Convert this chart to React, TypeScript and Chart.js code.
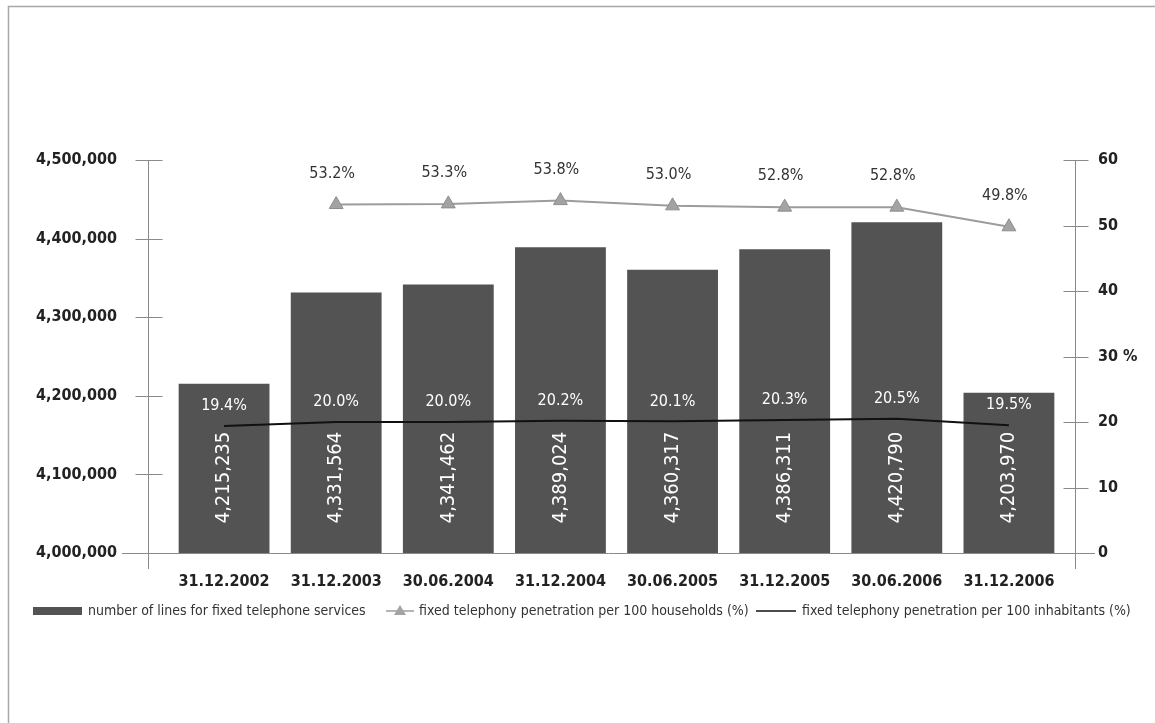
import { useEffect, useRef } from "react";
import { Chart, registerables } from "chart.js";

Chart.register(...registerables);

// Reporting dates
const dates = [
  "31.12.2002",
  "31.12.2003",
  "30.06.2004",
  "31.12.2004",
  "30.06.2005",
  "31.12.2005",
  "30.06.2006",
  "31.12.2006",
];

// Number of lines for fixed telephone services
const fixedLines = [4215235, 4331564, 4341462, 4389024, 4360317, 4386311, 4420790, 4203970];

// Fixed telephony penetration per 100 households (%)
const householdPenetration: (number | null)[] = [null, 53.2, 53.3, 53.8, 53.0, 52.8, 52.8, 49.8];

// Fixed telephony penetration per 100 inhabitants (%)
const inhabitantPenetration = [19.4, 20.0, 20.0, 20.2, 20.1, 20.3, 20.5, 19.5];

// Axis ranges
const linesAxisMin = 4000000;
const linesAxisMax = 4500000;
const linesAxisStep = 100000;
const percentAxisMin = 0;
const percentAxisMax = 60;
const percentAxisStep = 10;

const legendLabels = [
  "number of lines for fixed telephone services",
  "fixed telephony penetration per 100 households (%)",
  "fixed telephony penetration per 100 inhabitants (%)",
];

const FONT = '"DejaVu Sans Condensed", "Liberation Sans Narrow", "DejaVu Sans", sans-serif';
const BAR_COLOR = "#535353";
const HOUSEHOLD_LINE = "#9c9c9c";
const HOUSEHOLD_POINT = "#a3a3a3";
const INHABITANT_LINE = "#111111";
const AXIS_COLOR = "#8a8a8a";
const TEXT_COLOR = "#222222";

const decorPlugin = {
  id: "decor",
  beforeDatasetsDraw(chart: any) {
    const { ctx, chartArea, scales } = chart;
    const yL = scales.y;
    const yR = scales.y1;
    ctx.save();

    // page frame
    ctx.strokeStyle = "#a8a8a8";
    ctx.lineWidth = 1.5;
    ctx.beginPath();
    ctx.moveTo(8.5, 723);
    ctx.lineTo(8.5, 6.5);
    ctx.lineTo(1155, 6.5);
    ctx.stroke();

    ctx.strokeStyle = AXIS_COLOR;
    ctx.lineWidth = 1;

    // baseline
    ctx.beginPath();
    ctx.moveTo(chartArea.left - 46, Math.round(chartArea.bottom) + 0.5);
    ctx.lineTo(chartArea.right + 30, Math.round(chartArea.bottom) + 0.5);
    ctx.stroke();

    // left value axis with crossing ticks
    const lx = Math.round(chartArea.left - 20) + 0.5;
    ctx.beginPath();
    ctx.moveTo(lx, chartArea.top);
    ctx.lineTo(lx, chartArea.bottom + 16);
    yL.ticks.forEach((t: any) => {
      const py = Math.round(yL.getPixelForValue(t.value)) + 0.5;
      ctx.moveTo(lx - 13, py);
      ctx.lineTo(lx + 14, py);
    });
    ctx.stroke();

    // right percentage axis with crossing ticks
    const rx = Math.round(chartArea.right + 10) + 0.5;
    ctx.beginPath();
    ctx.moveTo(rx, chartArea.top);
    ctx.lineTo(rx, chartArea.bottom + 16);
    yR.ticks.forEach((t: any) => {
      const py = Math.round(yR.getPixelForValue(t.value)) + 0.5;
      ctx.moveTo(rx - 12, py);
      ctx.lineTo(rx + 13, py);
    });
    ctx.stroke();
    ctx.restore();
  },
  afterDatasetsDraw(chart: any) {
    const { ctx, scales } = chart;
    const barMeta = chart.getDatasetMeta(0);
    const houseMeta = chart.getDatasetMeta(1);
    const inhabMeta = chart.getDatasetMeta(2);
    ctx.save();
    ctx.textAlign = "center";
    ctx.textBaseline = "middle";

    // vertical value labels inside bars
    ctx.fillStyle = "#ffffff";
    ctx.font = `20px ${FONT}`;
    const labelY = scales.y.getPixelForValue(4096000);
    barMeta.data.forEach((el: any, i: number) => {
      ctx.save();
      ctx.translate(el.x, labelY);
      ctx.rotate(-Math.PI / 2);
      ctx.fillText(fixedLines[i].toLocaleString("en-US"), 0, 0);
      ctx.restore();
    });

    // inhabitants penetration labels above the line
    ctx.font = `16px ${FONT}`;
    inhabMeta.data.forEach((el: any, i: number) => {
      ctx.fillText(`${inhabitantPenetration[i].toFixed(1)}%`, el.x, el.y - 20);
    });

    // households penetration labels above the triangles
    ctx.fillStyle = "#333333";
    ctx.font = `16px ${FONT}`;
    houseMeta.data.forEach((el: any, i: number) => {
      const v = householdPenetration[i];
      if (v == null) return;
      ctx.fillText(`${v.toFixed(1)}%`, el.x - 4, el.y - 31);
    });
    ctx.restore();
  },
  afterDraw(chart: any) {
    const { ctx, chartArea } = chart;
    const y = chartArea.bottom + 58;
    ctx.save();
    ctx.font = `14px ${FONT}`;
    ctx.textBaseline = "middle";
    ctx.textAlign = "left";

    // bars
    ctx.fillStyle = BAR_COLOR;
    ctx.fillRect(33, y - 4, 49, 8);
    ctx.fillStyle = "#333333";
    ctx.fillText(legendLabels[0], 88, y);

    // households line with triangle
    ctx.strokeStyle = HOUSEHOLD_LINE;
    ctx.lineWidth = 1.5;
    ctx.beginPath();
    ctx.moveTo(386, y);
    ctx.lineTo(414, y);
    ctx.stroke();
    ctx.fillStyle = HOUSEHOLD_POINT;
    ctx.beginPath();
    ctx.moveTo(400, y - 6);
    ctx.lineTo(406, y + 4);
    ctx.lineTo(394, y + 4);
    ctx.closePath();
    ctx.fill();
    ctx.fillStyle = "#333333";
    ctx.fillText(legendLabels[1], 419, y);

    // inhabitants line
    ctx.strokeStyle = INHABITANT_LINE;
    ctx.lineWidth = 1.5;
    ctx.beginPath();
    ctx.moveTo(756, y);
    ctx.lineTo(796, y);
    ctx.stroke();
    ctx.fillText(legendLabels[2], 802, y);
    ctx.restore();
  },
};

export default function App() {
  const canvasRef = useRef<HTMLCanvasElement | null>(null);

  useEffect(() => {
    const canvas = canvasRef.current;
    if (!canvas) return;
    const chart = new Chart(canvas, {
      type: "bar",
      data: {
        labels: dates,
        datasets: [
          {
            type: "bar",
            label: legendLabels[0],
            data: fixedLines,
            yAxisID: "y",
            backgroundColor: BAR_COLOR,
            barPercentage: 0.81,
            categoryPercentage: 1,
            order: 3,
          },
          {
            type: "line",
            label: legendLabels[1],
            data: householdPenetration,
            yAxisID: "y1",
            borderColor: HOUSEHOLD_LINE,
            borderWidth: 2,
            pointStyle: "triangle",
            pointRadius: 8,
            pointBackgroundColor: HOUSEHOLD_POINT,
            pointBorderColor: "#8e8e8e",
            pointBorderWidth: 1,
            tension: 0,
            order: 1,
          },
          {
            type: "line",
            label: legendLabels[2],
            data: inhabitantPenetration,
            yAxisID: "y1",
            borderColor: INHABITANT_LINE,
            borderWidth: 2,
            pointRadius: 0,
            tension: 0,
            order: 2,
          },
        ] as any,
      },
      options: {
        responsive: false,
        animation: false,
        devicePixelRatio: 1,
        layout: { padding: { top: 160, bottom: 100, left: 0, right: 0 } },
        plugins: {
          legend: { display: false },
          tooltip: { enabled: false },
        },
        scales: {
          x: {
            type: "category",
            offset: true,
            grid: { display: false, drawTicks: false },
            border: { display: false },
            ticks: {
              color: TEXT_COLOR,
              font: { family: FONT, size: 16, weight: "bold" },
              padding: 19,
              maxRotation: 0,
              autoSkip: false,
            },
            afterFit(scale: any) {
              scale.height = 70;
            },
          },
          y: {
            position: "left",
            min: linesAxisMin,
            max: linesAxisMax,
            grid: { display: false, drawTicks: false },
            border: { display: false },
            ticks: {
              stepSize: linesAxisStep,
              padding: 51,
              color: TEXT_COLOR,
              font: { family: FONT, size: 16, weight: "bold" },
              callback: (v: any) => Number(v).toLocaleString("en-US"),
            },
            afterFit(scale: any) {
              scale.width = 168;
            },
          },
          y1: {
            position: "right",
            min: percentAxisMin,
            max: percentAxisMax,
            grid: { display: false, drawTicks: false },
            border: { display: false },
            ticks: {
              stepSize: percentAxisStep,
              padding: 33,
              color: TEXT_COLOR,
              font: { family: FONT, size: 16, weight: "bold" },
              callback: (v: any) => (Number(v) === 30 ? "30 %" : String(v)),
            },
            afterFit(scale: any) {
              scale.width = 90;
            },
          },
        },
      } as any,
      plugins: [decorPlugin],
    });
    return () => chart.destroy();
  }, []);

  return (
    <div style={{ position: "absolute", left: 0, top: 0, width: 1155, height: 723, background: "#ffffff" }}>
      <canvas ref={canvasRef} width={1155} height={723} style={{ display: "block" }} />
    </div>
  );
}
